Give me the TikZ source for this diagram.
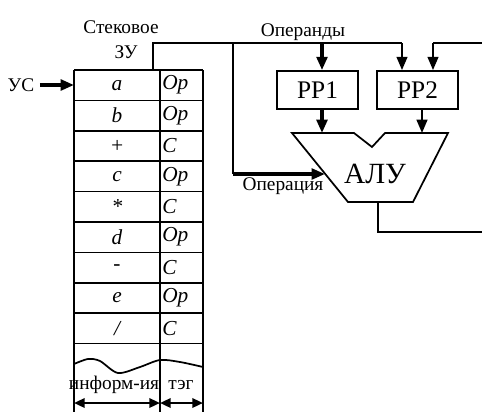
\documentclass[tikz,border=0pt]{standalone}
\usepackage{fontspec}
\setmainfont{Liberation Serif}
\usetikzlibrary{arrows.meta,calc}
\tikzset{
  >={Triangle[length=10pt,width=8pt]},
  wire/.style={line width=1.3pt},
  bus/.style={->,line width=1.7pt},
  fatbus/.style={->,line width=3pt},
  regbox/.style={draw,line width=1.3pt,minimum width=60.75pt,minimum height=28.5pt,
    inner sep=0pt,font=\fontsize{19}{19}\selectfont},
  cell/.style={font=\fontsize{16}{16}\selectfont\itshape,inner sep=0pt},
  lbl/.style={font=\fontsize{14.5}{14.5}\selectfont,inner sep=0pt},
  dimarr/.style={<->,line width=1.7pt,>={Triangle[length=8pt,width=7pt]}},
}

\begin{document}
\begin{tikzpicture}[x=0.75pt,y=-0.75pt]
  \useasboundingbox (0,0) rectangle (482,412);
  % stack memory
  \foreach \j in {0,...,9}
    \draw[wire] (74,{70+\j*30.4}) -- (203,{70+\j*30.4});
  \draw[wire] (74,70) -- (74,412);
  \draw[wire] (160,70) -- (160,412);
  \draw[wire] (203,70) -- (203,412);
  \foreach \info/\tag [count=\i] in {a/Op,b/Op,+/C,c/Op,*/C,d/Op,-/C,e/Op,{/}/C}{
    \node[cell] (inf\i) at (117,{70+(\i-0.5)*30.4}) {\info};
    \node[cell,anchor=west] (tag\i) at (162,{70+(\i-0.5)*30.4}) {\tag};
  }
  \draw[wire] plot[smooth] coordinates {(74,364) (88,359) (100,361) (118,373)
    (140,367) (160,360) (180,362) (203,367)};
  \node[lbl] (stkname) at (121,27) {Стековое};
  \node[lbl] (stkzu) at (126,52) {ЗУ};
  \node[lbl] (infcol) at (114,385) {информ-ия};
  \node[lbl] (tagcol) at (181,385) {тэг};
  \coordinate (dl) at (74,403);
  \coordinate (dm) at (160,403);
  \coordinate (dr) at (203,403);
  \draw[dimarr] (dl) -- (dm);
  \draw[dimarr] (dm) -- (dr);
  % stack pointer
  \node[lbl] (us) at (21,85) {УС};
  \coordinate (rowa) at (74,85);
  \draw[fatbus] (us.east) ++(4pt,0) -- (rowa);
  % registers and ALU
  \node[regbox] (pp1) at (317.5,90) {РР1};
  \node[regbox] (pp2) at (417.5,90) {РР2};
  \draw[wire] (292,133) -- (354,133) -- (372,147) -- (385,133) -- (448,133)
    -- (413,202) -- (348,202) -- cycle;
  \node[font=\fontsize{22}{22}\selectfont,inner sep=0pt] (alu) at (375,174) {АЛУ};
  % buses
  \coordinate (stktop) at (153,70);
  \coordinate (bl) at (153,43);
  \coordinate (opsplit) at (233,43);
  \coordinate (opcorner) at (233,174);
  \coordinate (aluin) at (325,174);
  \coordinate (p1in) at (322,43);
  \coordinate (p2in) at (402,43);
  \coordinate (p2rin) at (433,43);
  \coordinate (redge) at (482,43);
  \coordinate (alutop1) at (322,133);
  \coordinate (alutop2) at (422,133);
  \coordinate (aluout) at (378,202);
  \coordinate (outedge) at (482,232);
  \draw[wire] (stktop) -- (bl) -- (p2in);
  \draw[wire] (opsplit) -- (opcorner);
  \draw[fatbus,line width=2.4pt] (opcorner) -- (aluin);
  \draw[fatbus] (p1in) -- (p1in |- pp1.north);
  \draw[bus] (p2in) -- (p2in |- pp2.north);
  \draw[wire] (redge) -- (p2rin);
  \draw[bus] (p2rin) -- (p2rin |- pp2.north);
  \draw[fatbus] (alutop1 |- pp1.south) -- (alutop1);
  \draw[bus] (alutop2 |- pp2.south) -- (alutop2);
  \draw[wire] (aluout) |- (outedge);
  \node[lbl] (opnd) at (303,32) {Операнды};
  \node[lbl] (opn) at (283,186) {Операция};
\end{tikzpicture}
\end{document}
